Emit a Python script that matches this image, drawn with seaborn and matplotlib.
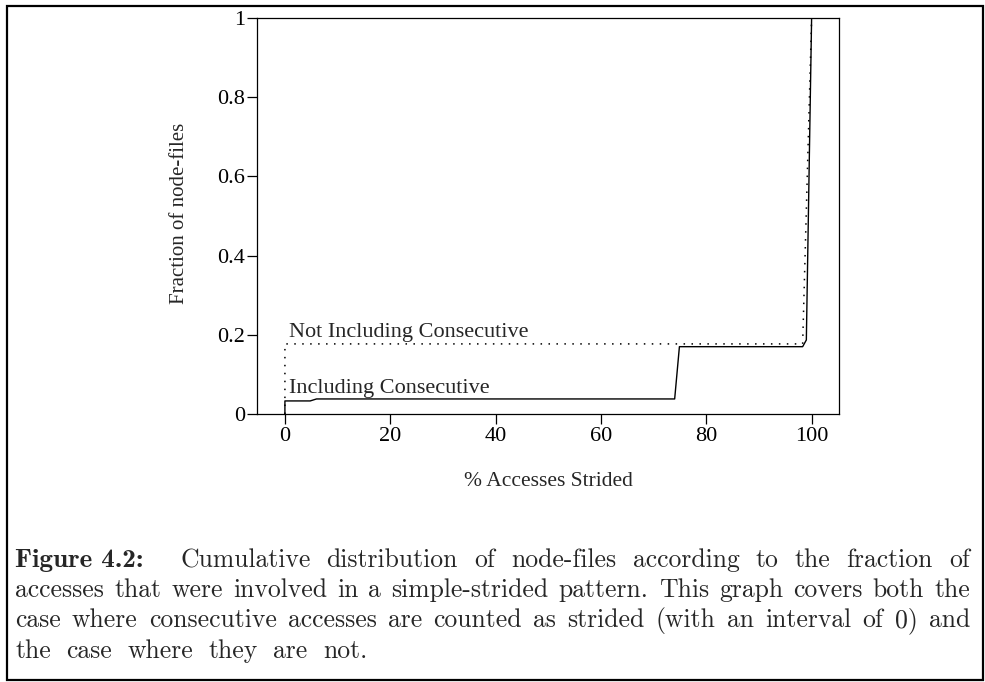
import matplotlib
matplotlib.use("Agg")
import matplotlib.pyplot as plt
import seaborn as sns
import pandas as pd
from matplotlib.patches import Rectangle

# ---- data ----
incl_x = [0, 0, 4.8, 6, 74, 74.9, 98.3, 99, 100]
incl_y = [0, 0.033, 0.033, 0.038, 0.038, 0.17, 0.17, 0.187, 1.0]
notincl_x = [0, 0, 98.3, 100]
notincl_y = [0, 0.177, 0.177, 1.0]
x_ticks = [0, 20, 40, 60, 80, 100]
y_ticks = [0, 0.2, 0.4, 0.6, 0.8, 1]
y_tick_labels = ["0", "0.2", "0.4", "0.6", "0.8", "1"]
x_label = "% Accesses Strided"
y_label = "Fraction of node-files"
label_incl = "Including Consecutive"
label_notincl = "Not Including Consecutive"
caption_lines = [
    ["Figure 4.2:", "Cumulative", "distribution", "of", "node-files", "according", "to", "the", "fraction", "of"],
    ["accesses", "that", "were", "involved", "in", "a", "simple-strided", "pattern.", "This", "graph", "covers", "both", "the"],
    ["case", "where", "consecutive", "accesses", "are", "counted", "as", "strided", "(with", "an", "interval", "of", "0)", "and"],
    ["the", "case", "where", "they", "are", "not."],
]

sns.set_style("ticks")
plt.rcParams["font.family"] = ["Liberation Serif", "DejaVu Serif"]

W, H = 985, 682
fig = plt.figure(figsize=(W / 100, H / 100), dpi=100)
ax = fig.add_axes([257 / W, 1 - 414 / H, (839 - 257) / W, (414 - 18) / H])

df_incl = pd.DataFrame({"x": incl_x, "y": incl_y})
df_not = pd.DataFrame({"x": notincl_x, "y": notincl_y})
sns.lineplot(data=df_incl, x="x", y="y", sort=False, estimator=None, ax=ax,
             color="black", linewidth=1.0)
sns.lineplot(data=df_not, x="x", y="y", sort=False, estimator=None, ax=ax,
             color="black", linewidth=1.1, linestyle=(0, (1, 4.2)))

ax.set_xlim(-5.3, 105.2)
ax.set_ylim(0, 1)
ax.set_xticks(x_ticks)
ax.set_xticklabels([str(v) for v in x_ticks])
ax.set_yticks(y_ticks)
ax.set_yticklabels(y_tick_labels)
ax.tick_params(axis="both", direction="out", length=7, width=0.9, colors="black",
               labelsize=16)
ax.tick_params(axis="y", pad=1.5)
ax.tick_params(axis="x", pad=2.5)
for s in ax.spines.values():
    s.set_visible(True)
    s.set_linewidth(0.9)
    s.set_color("black")

ax.set_xlabel(x_label, fontsize=15.5)
ax.set_ylabel(y_label, fontsize=15)
ax.xaxis.set_label_coords(0.5, (414 - 481) / 396)
ax.xaxis.label.set_verticalalignment("center")
ax.yaxis.set_label_coords((179 - 257) / 582, (414 - 213) / 396)
ax.yaxis.label.set_verticalalignment("center")
ax.yaxis.label.set_horizontalalignment("center")

ax.text(0.76, 0.195, label_notincl, fontsize=16, va="baseline", ha="left")
ax.text(0.76, 0.054, label_incl, fontsize=16, va="baseline", ha="left")

# outer frame
fig.patches.append(Rectangle((7 / W, 1 - 680 / H), (983 - 7) / W, (680 - 6) / H,
                             transform=fig.transFigure, fill=False,
                             edgecolor="black", linewidth=1.6))

# caption (justified)
fig.canvas.draw()
renderer = fig.canvas.get_renderer()
left_px, right_px = 15, 970
baselines = [567, 597, 627, 658]
cap_size = 18.5
for li, words in enumerate(caption_lines):
    texts = []
    for wi, wtxt in enumerate(words):
        bold = (li == 0 and wi == 0)
        t = fig.text(0, 1 - baselines[li] / H, wtxt, fontsize=cap_size + (1 if bold else 0),
                     family="cmb10" if bold else "cmr10", va="baseline", ha="left")
        texts.append(t)
    widths = [t.get_window_extent(renderer).width for t in texts]
    xs = []
    if li == 0:
        xs.append(left_px)
        start = 180
        rest = widths[1:]
        gap = (right_px - start - sum(rest)) / (len(rest) - 1)
        x = start
        for w in rest:
            xs.append(x)
            x += w + gap
    elif li < len(caption_lines) - 1:
        gap = (right_px - left_px - sum(widths)) / (len(widths) - 1)
        x = left_px
        for w in widths:
            xs.append(x)
            x += w + gap
    else:
        gap = 15.5
        x = left_px
        for w in widths:
            xs.append(x)
            x += w + gap
    for t, xp in zip(texts, xs):
        t.set_x(xp / W)

fig.savefig("out.png", dpi=100)
